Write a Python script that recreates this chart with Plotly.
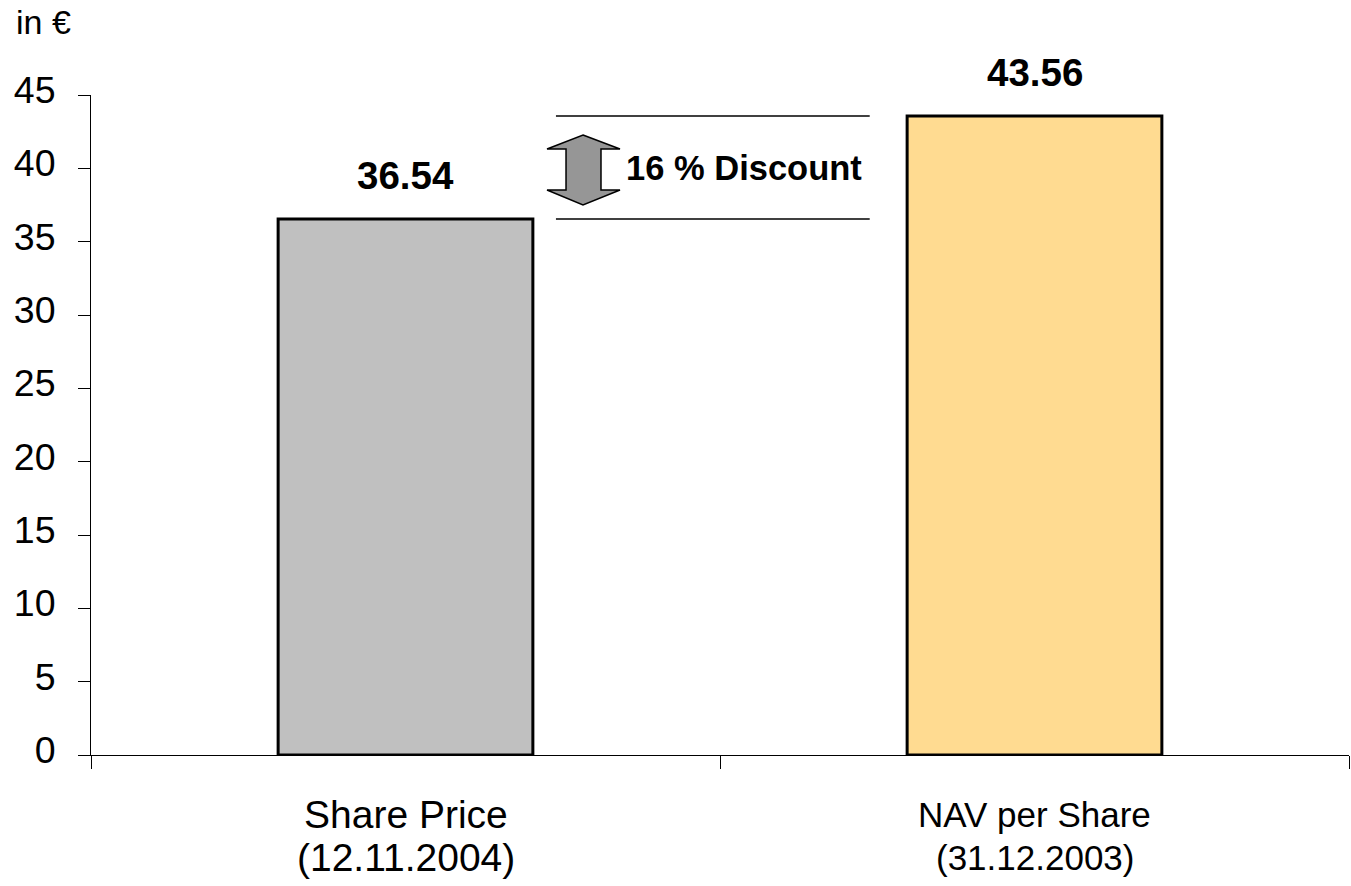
import plotly.graph_objects as go

# Share price vs. net asset value per share
categories = ["Share Price", "NAV per Share"]
dates = ["(12.11.2004)", "(31.12.2003)"]
values = [36.54, 43.56]
bar_colors = ["#C0C0C0", "#FFDB91"]
label_sizes = [39, 35]
discount_text = "16 % Discount"
y_ticks = [0, 5, 10, 15, 20, 25, 30, 35, 40, 45]

FONT = "Liberation Sans, Arial, sans-serif"

fig = go.Figure(
    go.Bar(
        x=categories,
        y=values,
        marker=dict(color=bar_colors, line=dict(color="black", width=3)),
        width=0.405,
        hoverinfo="skip",
    )
)

# value labels above the bars
for cat, val in zip(categories, values):
    fig.add_annotation(
        x=cat, y=val, xref="x", yref="y",
        text=f"<b>{val:.2f}</b>", showarrow=False,
        yanchor="middle", yshift=44,
        font=dict(family=FONT, size=38.5, color="black"),
    )

# two-line category labels below the axis
for cat, date, size in zip(categories, dates, label_sizes):
    fig.add_annotation(
        x=cat, y=0, xref="x", yref="paper",
        text=cat, showarrow=False, yanchor="middle", yshift=-59,
        font=dict(family=FONT, size=size, color="black"),
    )
    fig.add_annotation(
        x=cat, y=0, xref="x", yref="paper",
        text=date, showarrow=False, yanchor="middle", yshift=-102,
        font=dict(family=FONT, size=size, color="black"),
    )

# discount bracket: reference lines at both values
lo, hi = min(values), max(values)
mid = (lo + hi) / 2
for v in (hi, lo):
    fig.add_shape(
        type="line", xref="paper", yref="y",
        x0=0.3696, x1=0.619, y0=v, y1=v,
        line=dict(color="black", width=1.5),
    )

# double-headed block arrow between the two levels
xl, sl, xc, sr, xr = 0.3625, 0.3776, 0.3911, 0.4054, 0.4205
t_tip, t_base = mid + 2.22, mid + 1.27
b_base, b_tip = mid - 1.53, mid - 2.55
arrow_path = (
    f"M {xc},{t_tip} L {xr},{t_base} L {sr},{t_base} L {sr},{b_base} "
    f"L {xr},{b_base} L {xc},{b_tip} L {xl},{b_base} L {sl},{b_base} "
    f"L {sl},{t_base} L {xl},{t_base} Z"
)
fig.add_shape(
    type="path", xref="paper", yref="y", path=arrow_path,
    fillcolor="#969696", line=dict(color="black", width=1.5),
)
fig.add_annotation(
    x=0.424, y=mid, xref="paper", yref="y",
    text=f"<b>{discount_text}</b>", showarrow=False,
    xanchor="left", yanchor="middle",
    font=dict(family=FONT, size=34.5, color="black"),
)

# unit label
fig.add_annotation(
    x=0, y=1, xref="paper", yref="paper",
    text="in €", showarrow=False, xanchor="left", yanchor="middle",
    xshift=-77, yshift=73,
    font=dict(family=FONT, size=34, color="black"),
)

fig.update_layout(
    width=1351, height=886,
    margin=dict(l=91, r=2, t=95, b=131),
    paper_bgcolor="white", plot_bgcolor="white",
    showlegend=False,
    font=dict(family=FONT, color="black"),
)
fig.update_xaxes(
    type="category",
    showticklabels=False,
    ticks="outside", tickson="boundaries", ticklen=13, tickwidth=1, tickcolor="black",
    showline=True, linecolor="black", linewidth=1,
    showgrid=False, zeroline=False,
)
fig.update_yaxes(
    range=[0, 45], tickvals=y_ticks,
    ticks="outside", ticklen=12, tickwidth=1, tickcolor="black",
    showline=True, linecolor="black", linewidth=1,
    showgrid=False, zeroline=False,
    tickfont=dict(family=FONT, size=37.5, color="black"),
    ticklabelstandoff=15, ticklabelshift=-5,
)

fig.write_html("out.html")
